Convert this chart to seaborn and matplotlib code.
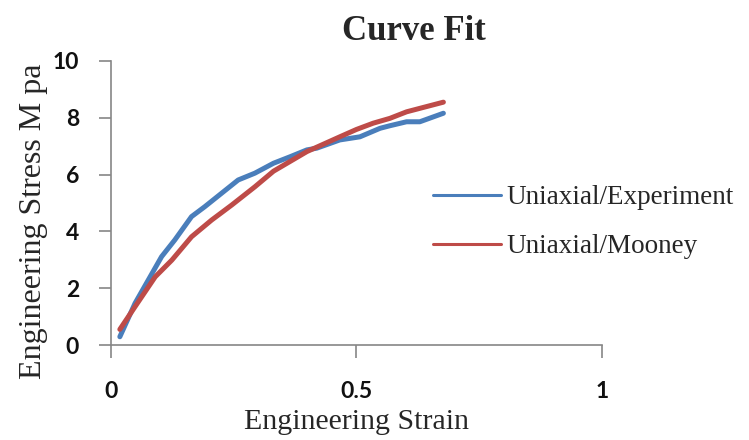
import pandas as pd
import seaborn as sns
from matplotlib import pyplot as plt

# data
exp_strain = [0.018, 0.049, 0.076, 0.103, 0.130, 0.164, 0.191, 0.225, 0.259, 0.293,
              0.331, 0.365, 0.399, 0.419, 0.466, 0.507, 0.548, 0.568, 0.602, 0.629, 0.677]
exp_stress = [0.29, 1.47, 2.29, 3.11, 3.70, 4.52, 4.87, 5.34, 5.81, 6.05,
              6.40, 6.63, 6.87, 6.93, 7.22, 7.33, 7.63, 7.72, 7.86, 7.86, 8.16]

mooney_strain = [0.018, 0.049, 0.090, 0.124, 0.164, 0.205, 0.246, 0.293, 0.331,
                 0.399, 0.466, 0.500, 0.534, 0.568, 0.602, 0.677]
mooney_stress = [0.55, 1.35, 2.40, 2.99, 3.81, 4.40, 4.93, 5.57, 6.12,
                 6.81, 7.33, 7.59, 7.81, 7.98, 8.21, 8.55]

series = ['Uniaxial/Experiment', 'Uniaxial/Mooney']
x_ticks = [0, 0.5, 1]
y_ticks = [0, 2, 4, 6, 8, 10]

df = pd.concat([
    pd.DataFrame({'strain': exp_strain, 'stress': exp_stress, 'series': series[0]}),
    pd.DataFrame({'strain': mooney_strain, 'stress': mooney_stress, 'series': series[1]}),
])

sns.set_style('ticks')
plt.rcParams['font.family'] = ['Liberation Serif', 'DejaVu Serif']

fig = plt.figure(figsize=(7.49, 4.40), dpi=100)
ax = fig.add_axes([0.1482, 0.2159, 0.6555, 0.6455])

sns.lineplot(df, x='strain', y='stress', hue='series', hue_order=series,
             palette=['#4a7ebb', '#be4b48'], sort=False, linewidth=3.6,
             ax=ax)

ax.set_xlim(0, 1)
ax.set_ylim(0, 10)
ax.set_xticks(x_ticks, labels=['0', '0.5', '1'])
ax.set_yticks(y_ticks)

grey = '#868686'
sns.despine(ax=ax)
for side in ['left', 'bottom']:
    ax.spines[side].set_color(grey)
    ax.spines[side].set_linewidth(1.2)
ax.tick_params(axis='both', colors=grey, width=1.2, length=9)
ax.tick_params(axis='y', pad=14)
ax.tick_params(axis='x', pad=17)
for lab in ax.get_xticklabels() + ax.get_yticklabels():
    lab.set_family('Lato')
    lab.set_fontweight('bold')
    lab.set_fontsize(16.5)
    lab.set_color('#111111')

ax.set_xlabel('Engineering Strain', fontsize=21.5)
ax.xaxis.set_label_coords(0.5, -0.224)
ax.set_ylabel('Engineering Stress M pa', fontsize=23)
ax.yaxis.set_label_coords(-0.128, 0.437)

fig.text(0.552, 0.909, 'Curve Fit', fontsize=25, fontweight='bold',
         ha='center', va='baseline')

sns.move_legend(ax, loc='center left', bbox_to_anchor=(0.628, 0.432),
                frameon=False, title=None, fontsize=19.5, borderpad=0,
                handlelength=2.5, handletextpad=0.22, labelspacing=0.9)
for line in ax.get_legend().get_lines():
    line.set_linewidth(2.2)

plt.savefig('out.png', dpi=100)
